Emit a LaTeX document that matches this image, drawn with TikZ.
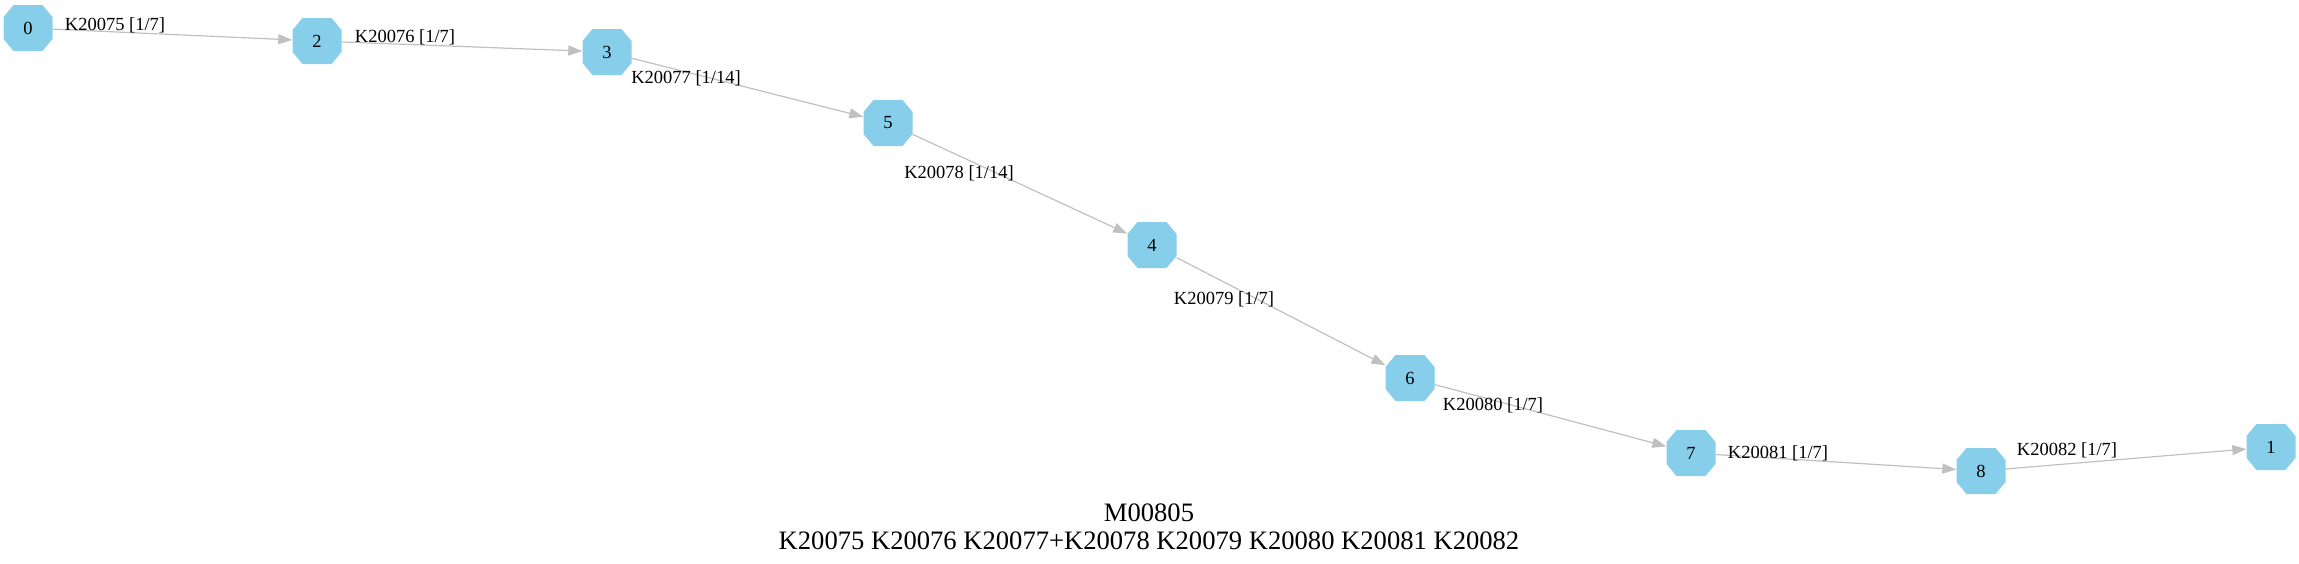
\documentclass[tikz,border=0pt]{standalone}
\usepackage{fontspec}
\setmainfont{Liberation Serif}
\usetikzlibrary{arrows.meta}
\definecolor{nodeblue}{HTML}{87CEEB}
\definecolor{edgegray}{HTML}{C0C0C0}
\begin{document}
\begin{tikzpicture}[x=1pt,y=-1pt,
  vertex/.style={shape=rectangle, draw=none,
    minimum width=49pt, minimum height=46pt, inner sep=0pt,
    font=\fontsize{18.5}{20}\selectfont,
    path picture={\fill[nodeblue]
      ([xshift=10pt]path picture bounding box.north west) --
      ([xshift=-10pt]path picture bounding box.north east) --
      ([yshift=-12pt]path picture bounding box.north east) --
      ([yshift=12pt]path picture bounding box.south east) --
      ([xshift=-10pt]path picture bounding box.south east) --
      ([xshift=10pt]path picture bounding box.south west) --
      ([yshift=12pt]path picture bounding box.south west) --
      ([yshift=-12pt]path picture bounding box.north west) -- cycle;}},
  edgelabel/.style={inner sep=0pt, font=\fontsize{18.5}{20}\selectfont},
  conn/.style={draw=edgegray, line width=1.2pt,
    -{Triangle[length=14pt,width=10pt,fill=edgegray]}},
  titletext/.style={inner sep=0pt, font=\fontsize{26.6}{29}\selectfont}]
\useasboundingbox (0,0) rectangle (2299,563);
\node[vertex] (n0) at (28,28) {0};
\node[vertex] (n2) at (317,41) {2};
\node[vertex] (n3) at (607,52) {3};
\node[vertex] (n5) at (888,123) {5};
\node[vertex] (n4) at (1152,245) {4};
\node[vertex] (n6) at (1410,378) {6};
\node[vertex] (n7) at (1691,453) {7};
\node[vertex] (n8) at (1981,471) {8};
\node[vertex] (n1) at (2271,447) {1};
\draw[conn] (n0) -- (n2);
\draw[conn] (n2) -- (n3);
\draw[conn] (n3) -- (n5);
\draw[conn] (n5) -- (n4);
\draw[conn] (n4) -- (n6);
\draw[conn] (n6) -- (n7);
\draw[conn] (n7) -- (n8);
\draw[conn] (n8) -- (n1);
\node[edgelabel] (l0) at (115,25) {K20075 [1/7]};
\node[edgelabel] (l1) at (405,37) {K20076 [1/7]};
\node[edgelabel] (l2) at (686,78) {K20077 [1/14]};
\node[edgelabel] (l3) at (959,173) {K20078 [1/14]};
\node[edgelabel] (l4) at (1224,299) {K20079 [1/7]};
\node[edgelabel] (l5) at (1493,405) {K20080 [1/7]};
\node[edgelabel] (l6) at (1778,453) {K20081 [1/7]};
\node[edgelabel] (l7) at (2067,450) {K20082 [1/7]};
\node[titletext] (t1) at (1149,513) {M00805};
\node[titletext] (t2) at (1149,541) {K20075 K20076 K20077+K20078 K20079 K20080 K20081 K20082};
\end{tikzpicture}
\end{document}
